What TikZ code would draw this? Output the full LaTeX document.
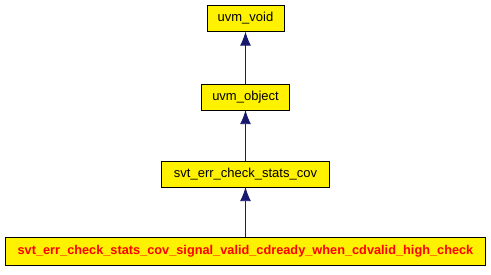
\documentclass[tikz,border=0pt]{standalone}
\usepackage{fontspec}
\setmainfont{Liberation Sans}
\usetikzlibrary{arrows.meta}

\definecolor{edgeblue}{HTML}{191970}

\tikzset{
  cls/.style={draw=black, fill=yellow, inner sep=0pt, minimum height=26pt,
    font=\fontsize{13}{15}\selectfont},
  inherit/.style={draw=edgeblue, line width=0.9pt, -{Latex[length=14pt, width=11pt]}},
}

\begin{document}
\begin{tikzpicture}[x=1pt, y=1pt]
    \useasboundingbox (0,0) rectangle (491,-275);
    % class boxes, base class on top
    \node[cls, minimum width=77pt] (void) at (245.5,-18.5) {uvm\_void};
    \node[cls, minimum width=88pt] (object) at (245.5,-97) {uvm\_object};
    \node[cls, minimum width=168pt] (cov) at (245.5,-174) {svt\_err\_check\_stats\_cov};
    \node[cls, minimum width=480pt, minimum height=28pt, text=red, font=\fontsize{12.75}{15}\selectfont\bfseries] (check) at (245.5,-251.5)
        {svt\_err\_check\_stats\_cov\_signal\_valid\_cdready\_when\_cdvalid\_high\_check};
    % inheritance edges
    \draw[inherit] (object.north) -- (void.south);
    \draw[inherit] (cov.north) -- (object.south);
    \draw[inherit] (check.north) -- (cov.south);
\end{tikzpicture}
\end{document}
